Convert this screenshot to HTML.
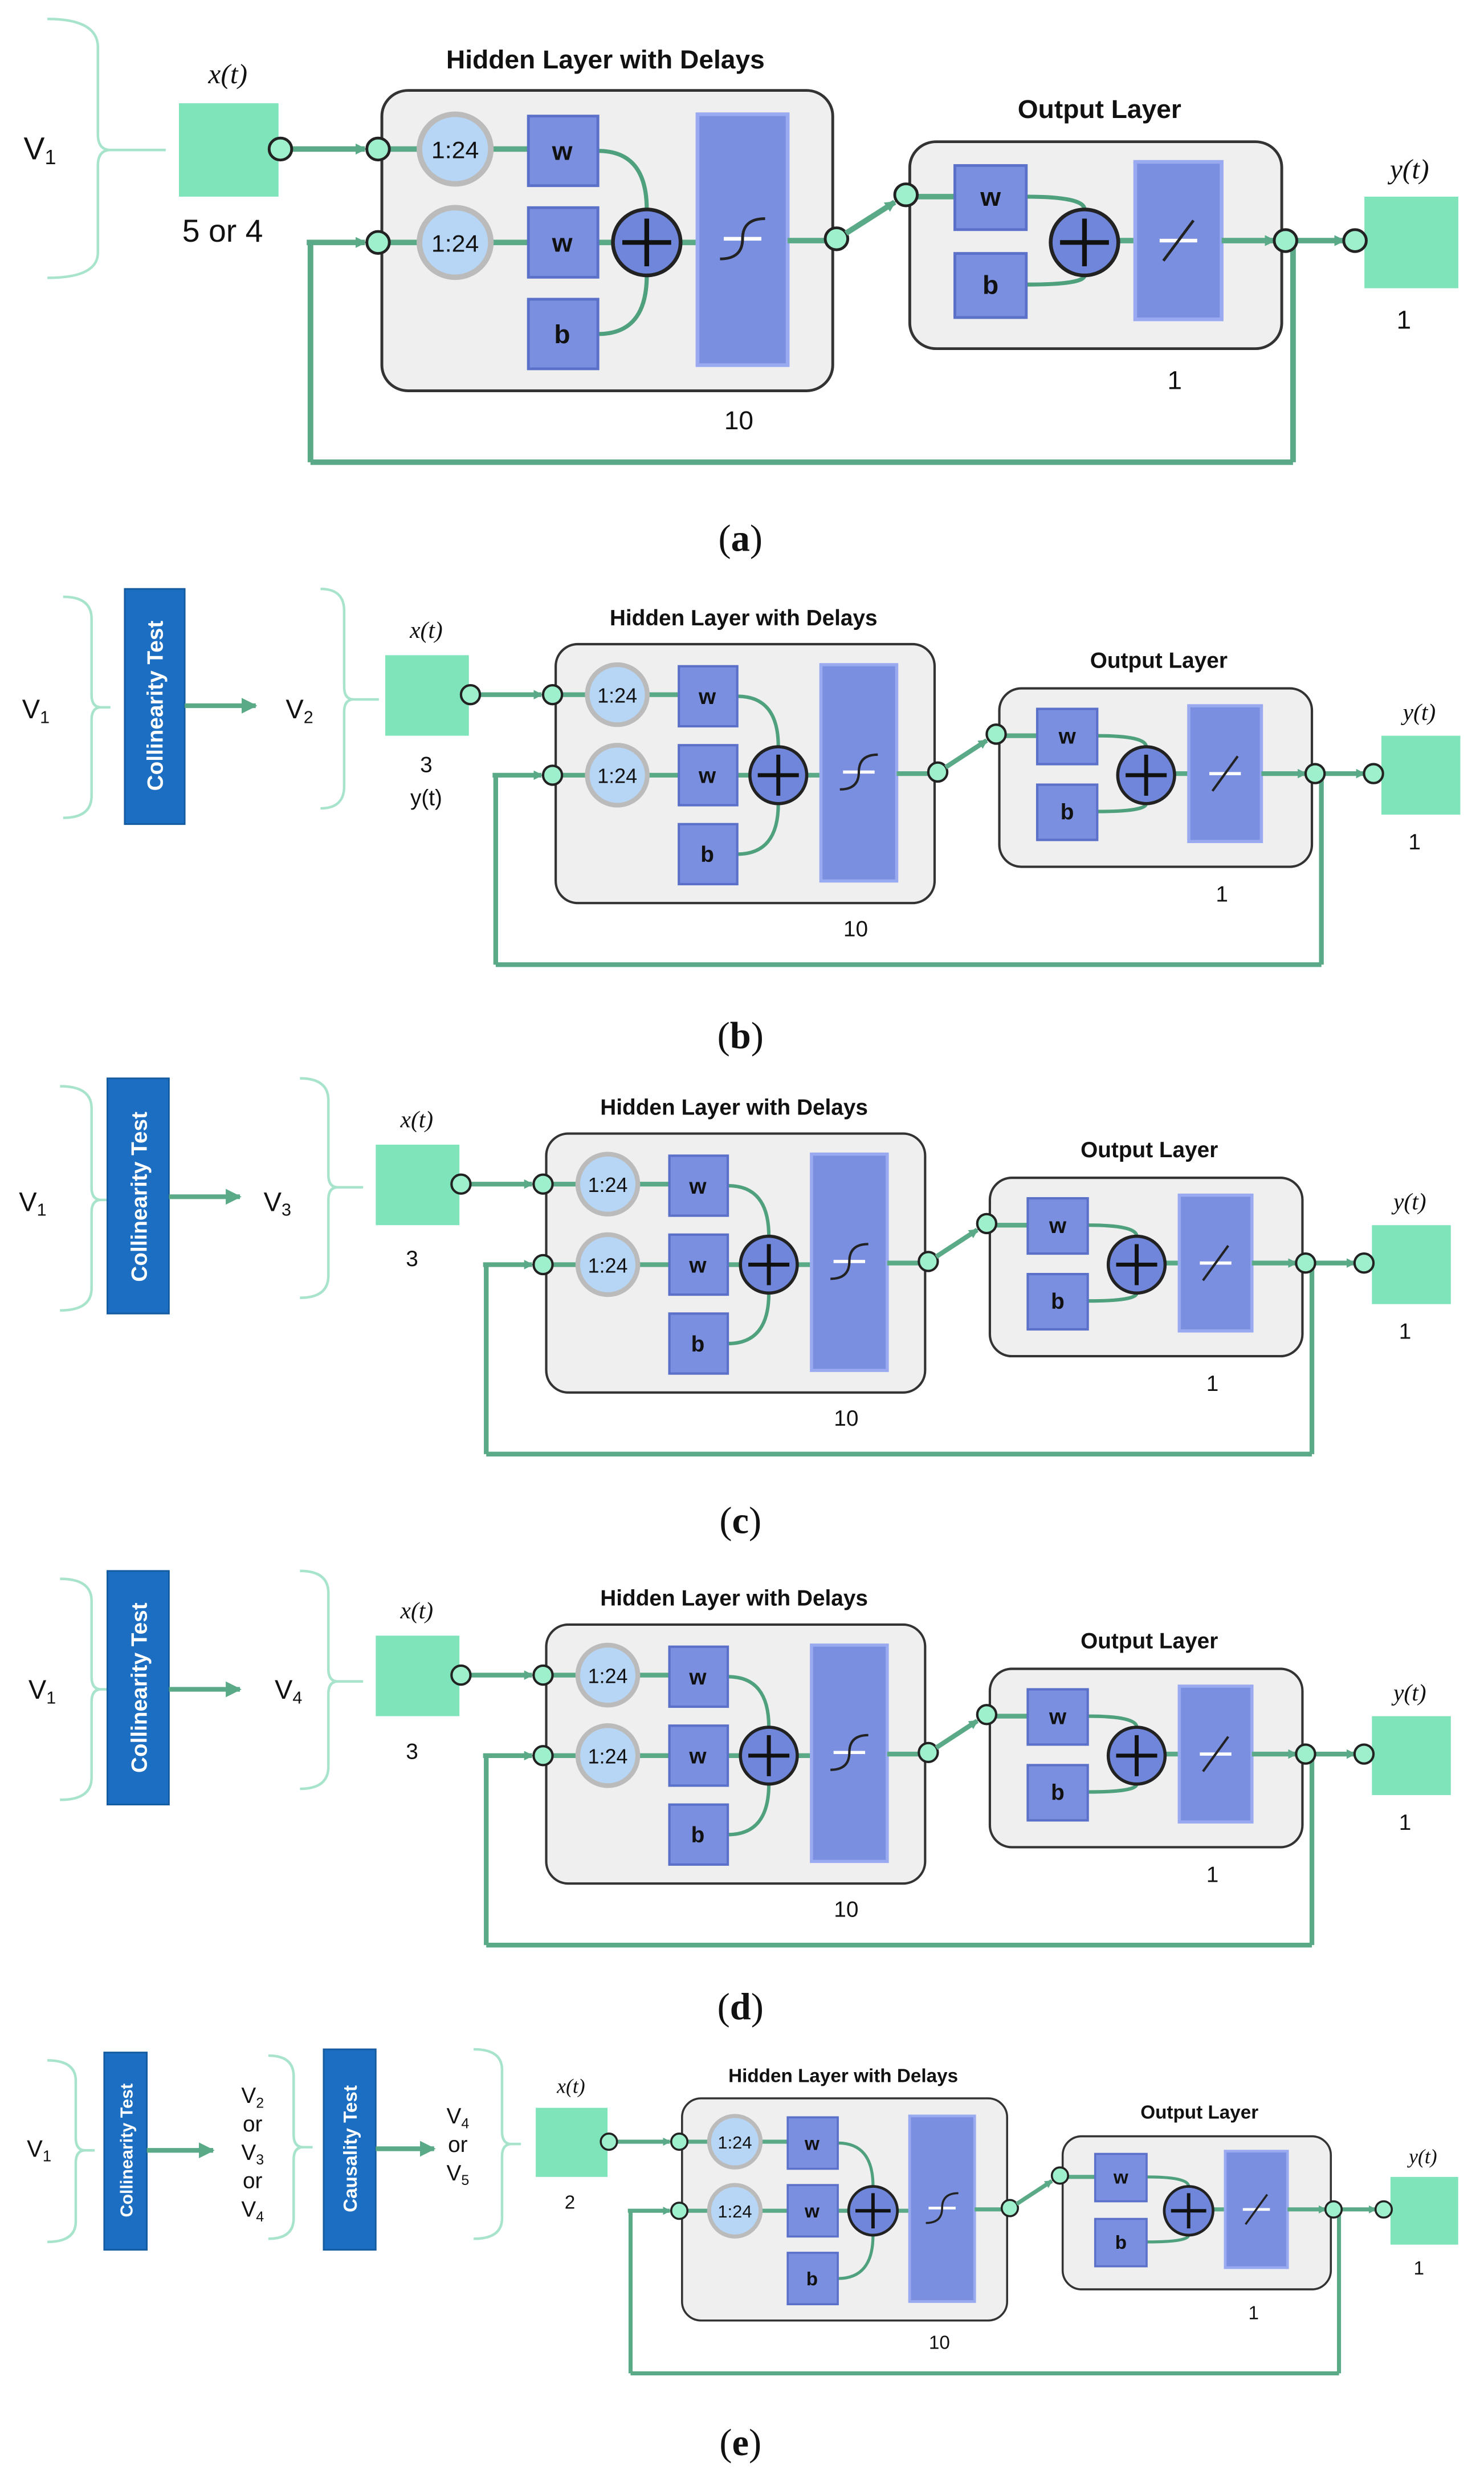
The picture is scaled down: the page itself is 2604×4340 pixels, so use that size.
<!DOCTYPE html>
<html><head><meta charset="utf-8"><style>
html,body{margin:0;padding:0;background:#fff}
svg{display:block}
.t{font-family:"Liberation Sans",sans-serif;fill:#111}
.tb{font-family:"Liberation Sans",sans-serif;font-weight:bold;fill:#111}
.it{font-family:"Liberation Serif",serif;font-style:italic;fill:#111}
.cap{font-family:"Liberation Serif",serif;fill:#111;font-size:24px}
.br{fill:none;stroke:#a8e4cc;stroke-width:1.6}
.ln{fill:none;stroke:#5aa987;stroke-width:3}
.nd{fill:#9ef0cc;stroke:#222;stroke-width:1.5}
.bl{fill:#7a8fe0;stroke:#5b70c8;stroke-width:1.5}
.cv{fill:none;stroke:#4fa07d;stroke-width:2.2}
.ct{fill:#1b6ec2;stroke:#135a9f;stroke-width:1}
.ctt{font-family:"Liberation Sans",sans-serif;font-weight:bold;fill:#fff}
</style></head><body>
<svg width="2604" height="4340" viewBox="0 0 940 1567" preserveAspectRatio="none" xmlns="http://www.w3.org/2000/svg">
<defs>
<marker id="ah" markerWidth="6" markerHeight="6" refX="5" refY="3" orient="auto" markerUnits="userSpaceOnUse"><path d="M0,0 L6,3 L0,6 z" fill="#5aa987"/></marker>
<marker id="ah2" markerWidth="10" markerHeight="10" refX="9" refY="5" orient="auto" markerUnits="userSpaceOnUse"><path d="M0,0 L10,5 L0,10 z" fill="#5aa987"/></marker>
</defs>
<rect width="940" height="1567" fill="#fff"/>

<!-- ===== Panel A left ===== -->
<text class="t" x="15" y="101" font-size="20">V<tspan font-size="13" dy="3">1</tspan></text>
<path class="br" d="M30,12 Q62,12 62,30 L62,85 Q62,95 70,95 L105,95 M70,95 Q62,95 62,105 L62,160 Q62,176 30,176"/>
<text class="t" x="141" y="153" font-size="20" text-anchor="middle">5 or 4</text>
<text class="cap" x="469" y="349" text-anchor="middle">(<tspan font-weight="bold">a</tspan>)</text>

<!-- ===== Panel B left ===== -->
<text class="t" x="14" y="455" font-size="17">V<tspan font-size="11" dy="3">1</tspan></text>
<path class="br" d="M40,378 Q58,378 58,392 L58,440 Q58,448 64,448 L70,448 M64,448 Q58,448 58,456 L58,504 Q58,518 40,518"/>
<rect class="ct" x="79" y="373" width="38" height="149"/>
<text class="ctt" font-size="14" text-anchor="middle" transform="translate(103,447) rotate(-90)">Collinearity Test</text>
<line class="ln" x1="117" y1="447" x2="162" y2="447" marker-end="url(#ah2)"/>
<text class="t" x="181" y="455" font-size="17">V<tspan font-size="11" dy="3">2</tspan></text>
<path class="br" d="M203,373 Q218,373 218,387 L218,435 Q218,443 224,443 L240,443 M224,443 Q218,443 218,451 L218,498 Q218,512 203,512"/>
<text class="t" x="270" y="489" font-size="14" text-anchor="middle">3</text>
<text class="t" x="270" y="510" font-size="14" text-anchor="middle">y(t)</text>
<text class="cap" x="469" y="664" text-anchor="middle">(<tspan font-weight="bold">b</tspan>)</text>

<!-- ===== Panel C left ===== -->
<text class="t" x="12" y="767" font-size="17">V<tspan font-size="11" dy="3">1</tspan></text>
<path class="br" d="M38,688 Q58,688 58,702 L58,752 Q58,760 64,760 L70,760 M64,760 Q58,760 58,768 L58,816 Q58,830 38,830"/>
<rect class="ct" x="68" y="683" width="39" height="149"/>
<text class="ctt" font-size="14" text-anchor="middle" transform="translate(93,758) rotate(-90)">Collinearity Test</text>
<line class="ln" x1="107" y1="758" x2="152" y2="758" marker-end="url(#ah2)"/>
<text class="t" x="167" y="767" font-size="17">V<tspan font-size="11" dy="3">3</tspan></text>
<path class="br" d="M190,683 Q208,683 208,697 L208,744 Q208,752 214,752 L230,752 M214,752 Q208,752 208,760 L208,808 Q208,822 190,822"/>
<text class="t" x="261" y="802" font-size="14" text-anchor="middle">3</text>
<text class="cap" x="469" y="971" text-anchor="middle">(<tspan font-weight="bold">c</tspan>)</text>

<!-- ===== Panel D left ===== -->
<text class="t" x="18" y="1076" font-size="17">V<tspan font-size="11" dy="3">1</tspan></text>
<path class="br" d="M38,1000 Q58,1000 58,1014 L58,1062 Q58,1070 64,1070 L70,1070 M64,1070 Q58,1070 58,1078 L58,1126 Q58,1140 38,1140"/>
<rect class="ct" x="68" y="995" width="39" height="148"/>
<text class="ctt" font-size="14" text-anchor="middle" transform="translate(93,1069) rotate(-90)">Collinearity Test</text>
<line class="ln" x1="107" y1="1070" x2="152" y2="1070" marker-end="url(#ah2)"/>
<text class="t" x="174" y="1076" font-size="17">V<tspan font-size="11" dy="3">4</tspan></text>
<path class="br" d="M190,995 Q208,995 208,1009 L208,1057 Q208,1065 214,1065 L230,1065 M214,1065 Q208,1065 208,1073 L208,1119 Q208,1133 190,1133"/>
<text class="t" x="261" y="1114" font-size="14" text-anchor="middle">3</text>
<text class="cap" x="469" y="1279" text-anchor="middle">(<tspan font-weight="bold">d</tspan>)</text>

<!-- ===== Panel E left ===== -->
<text class="t" x="17" y="1366" font-size="15">V<tspan font-size="10" dy="3">1</tspan></text>
<path class="br" d="M30,1305 Q48,1305 48,1318 L48,1354 Q48,1362 54,1362 L60,1362 M54,1362 Q48,1362 48,1370 L48,1407 Q48,1420 30,1420"/>
<rect class="ct" x="66" y="1300" width="27" height="125"/>
<text class="ctt" font-size="11" text-anchor="middle" transform="translate(84,1362) rotate(-90)">Collinearity Test</text>
<line class="ln" x1="93" y1="1362" x2="135" y2="1362" marker-end="url(#ah2)"/>
<g class="t" font-size="14" text-anchor="middle">
<text x="160" y="1332">V<tspan font-size="9" dy="3">2</tspan></text>
<text x="160" y="1350">or</text>
<text x="160" y="1368">V<tspan font-size="9" dy="3">3</tspan></text>
<text x="160" y="1386">or</text>
<text x="160" y="1404">V<tspan font-size="9" dy="3">4</tspan></text>
</g>
<path class="br" d="M170,1302 Q186,1302 186,1315 L186,1352 Q186,1360 192,1360 L198,1360 M192,1360 Q186,1360 186,1368 L186,1405 Q186,1418 170,1418"/>
<rect class="ct" x="205" y="1298" width="33" height="127"/>
<text class="ctt" font-size="12" text-anchor="middle" transform="translate(226,1361) rotate(-90)">Causality Test</text>
<line class="ln" x1="238" y1="1361" x2="275" y2="1361" marker-end="url(#ah2)"/>
<g class="t" font-size="14" text-anchor="middle">
<text x="290" y="1345">V<tspan font-size="9" dy="3">4</tspan></text>
<text x="290" y="1363">or</text>
<text x="290" y="1381">V<tspan font-size="9" dy="3">5</tspan></text>
</g>
<path class="br" d="M300,1298 Q318,1298 318,1311 L318,1350 Q318,1358 324,1358 L330,1358 M324,1358 Q318,1358 318,1366 L318,1405 Q318,1418 300,1418"/>
<text class="t" x="361" y="1399" font-size="12" text-anchor="middle">2</text>
<text class="cap" x="469" y="1555" text-anchor="middle">(<tspan font-weight="bold">e</tspan>)</text>

<!-- ===== Network groups ===== -->
<g transform="matrix(1.19,0,0,1.16,-177,-416)">
<text class="it" x="270" y="404" font-size="15" text-anchor="middle">x(t)</text>
<rect x="244" y="415" width="53" height="51" fill="#80e4bb"/>
<line class="ln" x1="314" y1="491" x2="314" y2="611"/><line class="ln" x1="314" y1="611" x2="837" y2="611"/><line class="ln" x1="837" y1="611" x2="837" y2="490"/>
<line class="ln" x1="312" y1="491" x2="343" y2="491" marker-end="url(#ah)"/>
<line class="ln" x1="304" y1="440" x2="343" y2="440" marker-end="url(#ah)"/>
<rect x="352" y="408" width="240" height="164" rx="14" fill="#efefef" stroke="#333" stroke-width="1.5"/>
<text class="tb" x="471" y="396" font-size="14" text-anchor="middle">Hidden Layer with Delays</text>
<line class="ln" x1="356" y1="440" x2="430" y2="440"/><line class="ln" x1="356" y1="491" x2="430" y2="491"/>
<circle cx="391" cy="440" r="19" fill="#b7d6f6" stroke="#bbb" stroke-width="3"/>
<circle cx="391" cy="491" r="19" fill="#b7d6f6" stroke="#bbb" stroke-width="3"/>
<text class="t" x="391" y="445" font-size="13" text-anchor="middle">1:24</text>
<text class="t" x="391" y="496" font-size="13" text-anchor="middle">1:24</text>
<line class="ln" x1="467" y1="491" x2="520" y2="491"/>
<path class="cv" d="M467,441 Q493,441 493,473"/><path class="cv" d="M467,541 Q493,541 493,509"/>
<rect class="bl" x="430" y="422" width="37" height="38"/><rect class="bl" x="430" y="472" width="37" height="38"/><rect class="bl" x="430" y="522" width="37" height="38"/>
<text class="tb" x="448" y="446" font-size="14" text-anchor="middle">w</text>
<text class="tb" x="448" y="496" font-size="14" text-anchor="middle">w</text>
<text class="tb" x="448" y="546" font-size="14" text-anchor="middle">b</text>
<circle cx="493" cy="491" r="18" fill="#6f86da" stroke="#222" stroke-width="2"/>
<path d="M493,478 V504 M480,491 H506" stroke="#111" stroke-width="2.5"/>
<rect x="520" y="421" width="48" height="137" fill="#7a8fe0" stroke="#9aaaf0" stroke-width="2"/>
<path d="M534,489 H554" stroke="#fff" stroke-width="2"/><path d="M532,500 Q544,500 544,489 Q544,478 556,478" stroke="#222" stroke-width="1.5" fill="none"/>
<line class="ln" x1="568" y1="490" x2="588" y2="490"/>
<circle class="nd" cx="594" cy="489" r="6"/>
<line class="ln" x1="599" y1="486" x2="625" y2="469" marker-end="url(#ah)"/>
<circle class="nd" cx="350" cy="440" r="6"/><circle class="nd" cx="350" cy="491" r="6"/>
<circle class="nd" cx="298" cy="440" r="6"/>
<rect x="633" y="436" width="198" height="113" rx="14" fill="#efefef" stroke="#333" stroke-width="1.5"/>
<text class="tb" x="734" y="423" font-size="14" text-anchor="middle">Output Layer</text>
<line class="ln" x1="637" y1="466" x2="657" y2="466"/>
<line class="ln" x1="744" y1="490" x2="753" y2="490"/>
<path class="cv" d="M695,466 Q726,466 726,473"/><path class="cv" d="M695,514 Q726,514 726,509"/>
<rect class="bl" x="657" y="449" width="38" height="35"/><rect class="bl" x="657" y="497" width="38" height="35"/>
<text class="tb" x="676" y="471" font-size="14" text-anchor="middle">w</text>
<text class="tb" x="676" y="519" font-size="14" text-anchor="middle">b</text>
<circle cx="726" cy="491" r="18" fill="#6f86da" stroke="#222" stroke-width="2"/>
<path d="M726,478 V504 M713,491 H739" stroke="#111" stroke-width="2.5"/>
<rect x="753" y="447" width="46" height="86" fill="#7a8fe0" stroke="#9aaaf0" stroke-width="2"/>
<path d="M766,490 H786" stroke="#fff" stroke-width="2"/><path d="M768,501 L784,479" stroke="#222" stroke-width="1.5"/>
<circle class="nd" cx="631" cy="465" r="6"/>
<line class="ln" x1="799" y1="490" x2="827" y2="490" marker-end="url(#ah)"/>
<line class="ln" x1="839" y1="490" x2="864" y2="490" marker-end="url(#ah)"/>
<circle class="nd" cx="833" cy="490" r="6"/>
<rect x="875" y="466" width="50" height="50" fill="#80e4bb"/>
<circle class="nd" cx="870" cy="490" r="6"/>
<text class="it" x="899" y="456" font-size="15" text-anchor="middle">y(t)</text>
<text class="t" x="896" y="538" font-size="14" text-anchor="middle">1</text>
<text class="t" x="774" y="571" font-size="14" text-anchor="middle">1</text>
<text class="t" x="542" y="593" font-size="14" text-anchor="middle">10</text>
</g>

<g transform="translate(0,0)">
<text class="it" x="270" y="404" font-size="15" text-anchor="middle">x(t)</text>
<rect x="244" y="415" width="53" height="51" fill="#80e4bb"/>
<line class="ln" x1="314" y1="491" x2="314" y2="611"/><line class="ln" x1="314" y1="611" x2="837" y2="611"/><line class="ln" x1="837" y1="611" x2="837" y2="490"/>
<line class="ln" x1="312" y1="491" x2="343" y2="491" marker-end="url(#ah)"/>
<line class="ln" x1="304" y1="440" x2="343" y2="440" marker-end="url(#ah)"/>
<rect x="352" y="408" width="240" height="164" rx="14" fill="#efefef" stroke="#333" stroke-width="1.5"/>
<text class="tb" x="471" y="396" font-size="14" text-anchor="middle">Hidden Layer with Delays</text>
<line class="ln" x1="356" y1="440" x2="430" y2="440"/><line class="ln" x1="356" y1="491" x2="430" y2="491"/>
<circle cx="391" cy="440" r="19" fill="#b7d6f6" stroke="#bbb" stroke-width="3"/>
<circle cx="391" cy="491" r="19" fill="#b7d6f6" stroke="#bbb" stroke-width="3"/>
<text class="t" x="391" y="445" font-size="13" text-anchor="middle">1:24</text>
<text class="t" x="391" y="496" font-size="13" text-anchor="middle">1:24</text>
<line class="ln" x1="467" y1="491" x2="520" y2="491"/>
<path class="cv" d="M467,441 Q493,441 493,473"/><path class="cv" d="M467,541 Q493,541 493,509"/>
<rect class="bl" x="430" y="422" width="37" height="38"/><rect class="bl" x="430" y="472" width="37" height="38"/><rect class="bl" x="430" y="522" width="37" height="38"/>
<text class="tb" x="448" y="446" font-size="14" text-anchor="middle">w</text>
<text class="tb" x="448" y="496" font-size="14" text-anchor="middle">w</text>
<text class="tb" x="448" y="546" font-size="14" text-anchor="middle">b</text>
<circle cx="493" cy="491" r="18" fill="#6f86da" stroke="#222" stroke-width="2"/>
<path d="M493,478 V504 M480,491 H506" stroke="#111" stroke-width="2.5"/>
<rect x="520" y="421" width="48" height="137" fill="#7a8fe0" stroke="#9aaaf0" stroke-width="2"/>
<path d="M534,489 H554" stroke="#fff" stroke-width="2"/><path d="M532,500 Q544,500 544,489 Q544,478 556,478" stroke="#222" stroke-width="1.5" fill="none"/>
<line class="ln" x1="568" y1="490" x2="588" y2="490"/>
<circle class="nd" cx="594" cy="489" r="6"/>
<line class="ln" x1="599" y1="486" x2="625" y2="469" marker-end="url(#ah)"/>
<circle class="nd" cx="350" cy="440" r="6"/><circle class="nd" cx="350" cy="491" r="6"/>
<circle class="nd" cx="298" cy="440" r="6"/>
<rect x="633" y="436" width="198" height="113" rx="14" fill="#efefef" stroke="#333" stroke-width="1.5"/>
<text class="tb" x="734" y="423" font-size="14" text-anchor="middle">Output Layer</text>
<line class="ln" x1="637" y1="466" x2="657" y2="466"/>
<line class="ln" x1="744" y1="490" x2="753" y2="490"/>
<path class="cv" d="M695,466 Q726,466 726,473"/><path class="cv" d="M695,514 Q726,514 726,509"/>
<rect class="bl" x="657" y="449" width="38" height="35"/><rect class="bl" x="657" y="497" width="38" height="35"/>
<text class="tb" x="676" y="471" font-size="14" text-anchor="middle">w</text>
<text class="tb" x="676" y="519" font-size="14" text-anchor="middle">b</text>
<circle cx="726" cy="491" r="18" fill="#6f86da" stroke="#222" stroke-width="2"/>
<path d="M726,478 V504 M713,491 H739" stroke="#111" stroke-width="2.5"/>
<rect x="753" y="447" width="46" height="86" fill="#7a8fe0" stroke="#9aaaf0" stroke-width="2"/>
<path d="M766,490 H786" stroke="#fff" stroke-width="2"/><path d="M768,501 L784,479" stroke="#222" stroke-width="1.5"/>
<circle class="nd" cx="631" cy="465" r="6"/>
<line class="ln" x1="799" y1="490" x2="827" y2="490" marker-end="url(#ah)"/>
<line class="ln" x1="839" y1="490" x2="864" y2="490" marker-end="url(#ah)"/>
<circle class="nd" cx="833" cy="490" r="6"/>
<rect x="875" y="466" width="50" height="50" fill="#80e4bb"/>
<circle class="nd" cx="870" cy="490" r="6"/>
<text class="it" x="899" y="456" font-size="15" text-anchor="middle">y(t)</text>
<text class="t" x="896" y="538" font-size="14" text-anchor="middle">1</text>
<text class="t" x="774" y="571" font-size="14" text-anchor="middle">1</text>
<text class="t" x="542" y="593" font-size="14" text-anchor="middle">10</text>
</g>

<g transform="translate(-6,310)">
<text class="it" x="270" y="404" font-size="15" text-anchor="middle">x(t)</text>
<rect x="244" y="415" width="53" height="51" fill="#80e4bb"/>
<line class="ln" x1="314" y1="491" x2="314" y2="611"/><line class="ln" x1="314" y1="611" x2="837" y2="611"/><line class="ln" x1="837" y1="611" x2="837" y2="490"/>
<line class="ln" x1="312" y1="491" x2="343" y2="491" marker-end="url(#ah)"/>
<line class="ln" x1="304" y1="440" x2="343" y2="440" marker-end="url(#ah)"/>
<rect x="352" y="408" width="240" height="164" rx="14" fill="#efefef" stroke="#333" stroke-width="1.5"/>
<text class="tb" x="471" y="396" font-size="14" text-anchor="middle">Hidden Layer with Delays</text>
<line class="ln" x1="356" y1="440" x2="430" y2="440"/><line class="ln" x1="356" y1="491" x2="430" y2="491"/>
<circle cx="391" cy="440" r="19" fill="#b7d6f6" stroke="#bbb" stroke-width="3"/>
<circle cx="391" cy="491" r="19" fill="#b7d6f6" stroke="#bbb" stroke-width="3"/>
<text class="t" x="391" y="445" font-size="13" text-anchor="middle">1:24</text>
<text class="t" x="391" y="496" font-size="13" text-anchor="middle">1:24</text>
<line class="ln" x1="467" y1="491" x2="520" y2="491"/>
<path class="cv" d="M467,441 Q493,441 493,473"/><path class="cv" d="M467,541 Q493,541 493,509"/>
<rect class="bl" x="430" y="422" width="37" height="38"/><rect class="bl" x="430" y="472" width="37" height="38"/><rect class="bl" x="430" y="522" width="37" height="38"/>
<text class="tb" x="448" y="446" font-size="14" text-anchor="middle">w</text>
<text class="tb" x="448" y="496" font-size="14" text-anchor="middle">w</text>
<text class="tb" x="448" y="546" font-size="14" text-anchor="middle">b</text>
<circle cx="493" cy="491" r="18" fill="#6f86da" stroke="#222" stroke-width="2"/>
<path d="M493,478 V504 M480,491 H506" stroke="#111" stroke-width="2.5"/>
<rect x="520" y="421" width="48" height="137" fill="#7a8fe0" stroke="#9aaaf0" stroke-width="2"/>
<path d="M534,489 H554" stroke="#fff" stroke-width="2"/><path d="M532,500 Q544,500 544,489 Q544,478 556,478" stroke="#222" stroke-width="1.5" fill="none"/>
<line class="ln" x1="568" y1="490" x2="588" y2="490"/>
<circle class="nd" cx="594" cy="489" r="6"/>
<line class="ln" x1="599" y1="486" x2="625" y2="469" marker-end="url(#ah)"/>
<circle class="nd" cx="350" cy="440" r="6"/><circle class="nd" cx="350" cy="491" r="6"/>
<circle class="nd" cx="298" cy="440" r="6"/>
<rect x="633" y="436" width="198" height="113" rx="14" fill="#efefef" stroke="#333" stroke-width="1.5"/>
<text class="tb" x="734" y="423" font-size="14" text-anchor="middle">Output Layer</text>
<line class="ln" x1="637" y1="466" x2="657" y2="466"/>
<line class="ln" x1="744" y1="490" x2="753" y2="490"/>
<path class="cv" d="M695,466 Q726,466 726,473"/><path class="cv" d="M695,514 Q726,514 726,509"/>
<rect class="bl" x="657" y="449" width="38" height="35"/><rect class="bl" x="657" y="497" width="38" height="35"/>
<text class="tb" x="676" y="471" font-size="14" text-anchor="middle">w</text>
<text class="tb" x="676" y="519" font-size="14" text-anchor="middle">b</text>
<circle cx="726" cy="491" r="18" fill="#6f86da" stroke="#222" stroke-width="2"/>
<path d="M726,478 V504 M713,491 H739" stroke="#111" stroke-width="2.5"/>
<rect x="753" y="447" width="46" height="86" fill="#7a8fe0" stroke="#9aaaf0" stroke-width="2"/>
<path d="M766,490 H786" stroke="#fff" stroke-width="2"/><path d="M768,501 L784,479" stroke="#222" stroke-width="1.5"/>
<circle class="nd" cx="631" cy="465" r="6"/>
<line class="ln" x1="799" y1="490" x2="827" y2="490" marker-end="url(#ah)"/>
<line class="ln" x1="839" y1="490" x2="864" y2="490" marker-end="url(#ah)"/>
<circle class="nd" cx="833" cy="490" r="6"/>
<rect x="875" y="466" width="50" height="50" fill="#80e4bb"/>
<circle class="nd" cx="870" cy="490" r="6"/>
<text class="it" x="899" y="456" font-size="15" text-anchor="middle">y(t)</text>
<text class="t" x="896" y="538" font-size="14" text-anchor="middle">1</text>
<text class="t" x="774" y="571" font-size="14" text-anchor="middle">1</text>
<text class="t" x="542" y="593" font-size="14" text-anchor="middle">10</text>
</g>

<g transform="translate(-6,621)">
<text class="it" x="270" y="404" font-size="15" text-anchor="middle">x(t)</text>
<rect x="244" y="415" width="53" height="51" fill="#80e4bb"/>
<line class="ln" x1="314" y1="491" x2="314" y2="611"/><line class="ln" x1="314" y1="611" x2="837" y2="611"/><line class="ln" x1="837" y1="611" x2="837" y2="490"/>
<line class="ln" x1="312" y1="491" x2="343" y2="491" marker-end="url(#ah)"/>
<line class="ln" x1="304" y1="440" x2="343" y2="440" marker-end="url(#ah)"/>
<rect x="352" y="408" width="240" height="164" rx="14" fill="#efefef" stroke="#333" stroke-width="1.5"/>
<text class="tb" x="471" y="396" font-size="14" text-anchor="middle">Hidden Layer with Delays</text>
<line class="ln" x1="356" y1="440" x2="430" y2="440"/><line class="ln" x1="356" y1="491" x2="430" y2="491"/>
<circle cx="391" cy="440" r="19" fill="#b7d6f6" stroke="#bbb" stroke-width="3"/>
<circle cx="391" cy="491" r="19" fill="#b7d6f6" stroke="#bbb" stroke-width="3"/>
<text class="t" x="391" y="445" font-size="13" text-anchor="middle">1:24</text>
<text class="t" x="391" y="496" font-size="13" text-anchor="middle">1:24</text>
<line class="ln" x1="467" y1="491" x2="520" y2="491"/>
<path class="cv" d="M467,441 Q493,441 493,473"/><path class="cv" d="M467,541 Q493,541 493,509"/>
<rect class="bl" x="430" y="422" width="37" height="38"/><rect class="bl" x="430" y="472" width="37" height="38"/><rect class="bl" x="430" y="522" width="37" height="38"/>
<text class="tb" x="448" y="446" font-size="14" text-anchor="middle">w</text>
<text class="tb" x="448" y="496" font-size="14" text-anchor="middle">w</text>
<text class="tb" x="448" y="546" font-size="14" text-anchor="middle">b</text>
<circle cx="493" cy="491" r="18" fill="#6f86da" stroke="#222" stroke-width="2"/>
<path d="M493,478 V504 M480,491 H506" stroke="#111" stroke-width="2.5"/>
<rect x="520" y="421" width="48" height="137" fill="#7a8fe0" stroke="#9aaaf0" stroke-width="2"/>
<path d="M534,489 H554" stroke="#fff" stroke-width="2"/><path d="M532,500 Q544,500 544,489 Q544,478 556,478" stroke="#222" stroke-width="1.5" fill="none"/>
<line class="ln" x1="568" y1="490" x2="588" y2="490"/>
<circle class="nd" cx="594" cy="489" r="6"/>
<line class="ln" x1="599" y1="486" x2="625" y2="469" marker-end="url(#ah)"/>
<circle class="nd" cx="350" cy="440" r="6"/><circle class="nd" cx="350" cy="491" r="6"/>
<circle class="nd" cx="298" cy="440" r="6"/>
<rect x="633" y="436" width="198" height="113" rx="14" fill="#efefef" stroke="#333" stroke-width="1.5"/>
<text class="tb" x="734" y="423" font-size="14" text-anchor="middle">Output Layer</text>
<line class="ln" x1="637" y1="466" x2="657" y2="466"/>
<line class="ln" x1="744" y1="490" x2="753" y2="490"/>
<path class="cv" d="M695,466 Q726,466 726,473"/><path class="cv" d="M695,514 Q726,514 726,509"/>
<rect class="bl" x="657" y="449" width="38" height="35"/><rect class="bl" x="657" y="497" width="38" height="35"/>
<text class="tb" x="676" y="471" font-size="14" text-anchor="middle">w</text>
<text class="tb" x="676" y="519" font-size="14" text-anchor="middle">b</text>
<circle cx="726" cy="491" r="18" fill="#6f86da" stroke="#222" stroke-width="2"/>
<path d="M726,478 V504 M713,491 H739" stroke="#111" stroke-width="2.5"/>
<rect x="753" y="447" width="46" height="86" fill="#7a8fe0" stroke="#9aaaf0" stroke-width="2"/>
<path d="M766,490 H786" stroke="#fff" stroke-width="2"/><path d="M768,501 L784,479" stroke="#222" stroke-width="1.5"/>
<circle class="nd" cx="631" cy="465" r="6"/>
<line class="ln" x1="799" y1="490" x2="827" y2="490" marker-end="url(#ah)"/>
<line class="ln" x1="839" y1="490" x2="864" y2="490" marker-end="url(#ah)"/>
<circle class="nd" cx="833" cy="490" r="6"/>
<rect x="875" y="466" width="50" height="50" fill="#80e4bb"/>
<circle class="nd" cx="870" cy="490" r="6"/>
<text class="it" x="899" y="456" font-size="15" text-anchor="middle">y(t)</text>
<text class="t" x="896" y="538" font-size="14" text-anchor="middle">1</text>
<text class="t" x="774" y="571" font-size="14" text-anchor="middle">1</text>
<text class="t" x="542" y="593" font-size="14" text-anchor="middle">10</text>
</g>

<g transform="matrix(0.858,0,0,0.858,130,979)">
<text class="it" x="270" y="404" font-size="15" text-anchor="middle">x(t)</text>
<rect x="244" y="415" width="53" height="51" fill="#80e4bb"/>
<line class="ln" x1="314" y1="491" x2="314" y2="611"/><line class="ln" x1="314" y1="611" x2="837" y2="611"/><line class="ln" x1="837" y1="611" x2="837" y2="490"/>
<line class="ln" x1="312" y1="491" x2="343" y2="491" marker-end="url(#ah)"/>
<line class="ln" x1="304" y1="440" x2="343" y2="440" marker-end="url(#ah)"/>
<rect x="352" y="408" width="240" height="164" rx="14" fill="#efefef" stroke="#333" stroke-width="1.5"/>
<text class="tb" x="471" y="396" font-size="14" text-anchor="middle">Hidden Layer with Delays</text>
<line class="ln" x1="356" y1="440" x2="430" y2="440"/><line class="ln" x1="356" y1="491" x2="430" y2="491"/>
<circle cx="391" cy="440" r="19" fill="#b7d6f6" stroke="#bbb" stroke-width="3"/>
<circle cx="391" cy="491" r="19" fill="#b7d6f6" stroke="#bbb" stroke-width="3"/>
<text class="t" x="391" y="445" font-size="13" text-anchor="middle">1:24</text>
<text class="t" x="391" y="496" font-size="13" text-anchor="middle">1:24</text>
<line class="ln" x1="467" y1="491" x2="520" y2="491"/>
<path class="cv" d="M467,441 Q493,441 493,473"/><path class="cv" d="M467,541 Q493,541 493,509"/>
<rect class="bl" x="430" y="422" width="37" height="38"/><rect class="bl" x="430" y="472" width="37" height="38"/><rect class="bl" x="430" y="522" width="37" height="38"/>
<text class="tb" x="448" y="446" font-size="14" text-anchor="middle">w</text>
<text class="tb" x="448" y="496" font-size="14" text-anchor="middle">w</text>
<text class="tb" x="448" y="546" font-size="14" text-anchor="middle">b</text>
<circle cx="493" cy="491" r="18" fill="#6f86da" stroke="#222" stroke-width="2"/>
<path d="M493,478 V504 M480,491 H506" stroke="#111" stroke-width="2.5"/>
<rect x="520" y="421" width="48" height="137" fill="#7a8fe0" stroke="#9aaaf0" stroke-width="2"/>
<path d="M534,489 H554" stroke="#fff" stroke-width="2"/><path d="M532,500 Q544,500 544,489 Q544,478 556,478" stroke="#222" stroke-width="1.5" fill="none"/>
<line class="ln" x1="568" y1="490" x2="588" y2="490"/>
<circle class="nd" cx="594" cy="489" r="6"/>
<line class="ln" x1="599" y1="486" x2="625" y2="469" marker-end="url(#ah)"/>
<circle class="nd" cx="350" cy="440" r="6"/><circle class="nd" cx="350" cy="491" r="6"/>
<circle class="nd" cx="298" cy="440" r="6"/>
<rect x="633" y="436" width="198" height="113" rx="14" fill="#efefef" stroke="#333" stroke-width="1.5"/>
<text class="tb" x="734" y="423" font-size="14" text-anchor="middle">Output Layer</text>
<line class="ln" x1="637" y1="466" x2="657" y2="466"/>
<line class="ln" x1="744" y1="490" x2="753" y2="490"/>
<path class="cv" d="M695,466 Q726,466 726,473"/><path class="cv" d="M695,514 Q726,514 726,509"/>
<rect class="bl" x="657" y="449" width="38" height="35"/><rect class="bl" x="657" y="497" width="38" height="35"/>
<text class="tb" x="676" y="471" font-size="14" text-anchor="middle">w</text>
<text class="tb" x="676" y="519" font-size="14" text-anchor="middle">b</text>
<circle cx="726" cy="491" r="18" fill="#6f86da" stroke="#222" stroke-width="2"/>
<path d="M726,478 V504 M713,491 H739" stroke="#111" stroke-width="2.5"/>
<rect x="753" y="447" width="46" height="86" fill="#7a8fe0" stroke="#9aaaf0" stroke-width="2"/>
<path d="M766,490 H786" stroke="#fff" stroke-width="2"/><path d="M768,501 L784,479" stroke="#222" stroke-width="1.5"/>
<circle class="nd" cx="631" cy="465" r="6"/>
<line class="ln" x1="799" y1="490" x2="827" y2="490" marker-end="url(#ah)"/>
<line class="ln" x1="839" y1="490" x2="864" y2="490" marker-end="url(#ah)"/>
<circle class="nd" cx="833" cy="490" r="6"/>
<rect x="875" y="466" width="50" height="50" fill="#80e4bb"/>
<circle class="nd" cx="870" cy="490" r="6"/>
<text class="it" x="899" y="456" font-size="15" text-anchor="middle">y(t)</text>
<text class="t" x="896" y="538" font-size="14" text-anchor="middle">1</text>
<text class="t" x="774" y="571" font-size="14" text-anchor="middle">1</text>
<text class="t" x="542" y="593" font-size="14" text-anchor="middle">10</text>
</g>
</svg>
</body></html>
